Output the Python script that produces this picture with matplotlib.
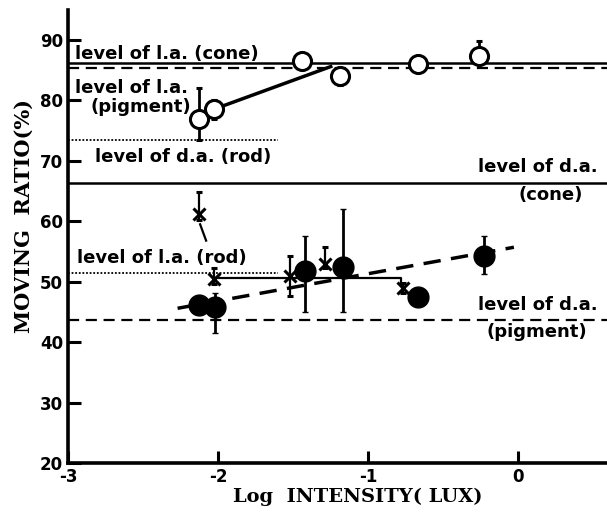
import matplotlib
matplotlib.use("Agg")
import matplotlib.pyplot as plt

# ---- data ----
open_x = [-2.13, -2.03, -1.44, -1.19, -0.67, -0.26]
open_y = [77.0, 78.5, 86.6, 84.0, 86.0, 87.3]
open_err_lo = [3.6, 1.5, 1.2, 1.5, 1.3, 1.2]
open_err_hi = [5.0, 1.5, 1.3, 1.3, 1.3, 2.5]
open_fit_x = [-2.0, -1.25]
open_fit_y = [78.8, 85.6]

fill_x = [-2.13, -2.02, -1.42, -1.17, -0.67, -0.23]
fill_y = [46.1, 45.8, 51.7, 52.5, 47.5, 54.3]
fill_err_lo = [1.5, 4.3, 6.7, 7.5, 1.3, 3.0]
fill_err_hi = [1.5, 2.3, 5.9, 9.6, 1.3, 3.2]
fill_fit_x = [-2.27, -0.03]
fill_fit_y = [45.6, 55.7]

cross_x = [-2.13, -2.03, -1.52, -1.29, -0.77]
cross_y = [61.2, 50.5, 51.0, 53.0, 49.0]
cross_err_lo = [1.0, 0.8, 3.3, 0.8, 0.8]
cross_err_hi = [3.6, 1.8, 3.3, 2.8, 0.8]
cross_step_x = [-2.02, -0.78, -0.78]
cross_step_y = [50.6, 50.6, 49.3]
cross_tail_x = [-2.12, -2.08]
cross_tail_y = [59.5, 56.8]

levels = {
    "la_cone": 86.2,
    "la_pigment": 85.4,
    "da_rod": 73.5,
    "da_cone": 66.3,
    "la_rod": 51.4,
    "da_pigment": 43.6,
}

xticks = [-3, -2, -1, 0]
xticklabels = ["-3", "-2", "-1", "0"]
yticks = [20, 30, 40, 50, 60, 70, 80, 90]

# ---- figure ----
plt.rcParams['font.family'] = ['DejaVu Sans']
fig = plt.figure(figsize=(6.07, 5.15), dpi=100)
ax = fig.add_axes([0.112, 0.101, 0.888, 0.880])
ax.set_xlim(-3, 0.59)
ax.set_ylim(20, 95)

for s in ['top', 'right']:
    ax.spines[s].set_visible(False)
for s in ['left', 'bottom']:
    ax.spines[s].set_linewidth(2.6)

# level lines
ax.axhline(levels["la_cone"], color='black', lw=1.8)
ax.axhline(levels["la_pigment"], color='black', lw=1.6, ls=(0, (5, 3)))
ax.plot([-3, -1.6], [levels["da_rod"]] * 2, color='black', lw=1.3, ls=(0, (1, 1)))
ax.axhline(levels["da_cone"], color='black', lw=1.8)
ax.plot([-3, -1.6], [levels["la_rod"]] * 2, color='black', lw=1.3, ls=(0, (1, 1)))
ax.axhline(levels["da_pigment"], color='black', lw=1.6, ls=(0, (5, 3)))

# fits
ax.plot(open_fit_x, open_fit_y, color='black', lw=2.5)
ax.plot(fill_fit_x, fill_fit_y, color='black', lw=2.5, ls=(0, (5, 3)))
ax.plot(cross_step_x, cross_step_y, color='black', lw=1.6)
ax.plot(cross_tail_x, cross_tail_y, color='black', lw=1.6)

# data
ax.errorbar(cross_x, cross_y, yerr=[cross_err_lo, cross_err_hi], fmt='x',
            color='black', ms=9, mew=2.2, elinewidth=1.6, capsize=2, zorder=4)
ax.errorbar(fill_x, fill_y, yerr=[fill_err_lo, fill_err_hi], fmt='o',
            color='black', ms=15, elinewidth=2.0, capsize=2, zorder=5)
ax.errorbar(open_x, open_y, yerr=[open_err_lo, open_err_hi], fmt='o',
            mfc='white', mec='black', color='black', ms=13, mew=2.2,
            elinewidth=2.0, capsize=2, zorder=6)

# texts
tkw = dict(fontsize=13, fontweight='bold', color='black', va='baseline',
           family='DejaVu Sans')
ax.text(-2.95, 86.9, "level of l.a. (cone)", **tkw)
ax.text(-2.95, 81.3, "level of l.a.", **tkw)
ax.text(-2.85, 78.1, "(pigment)", **tkw)
ax.text(-2.82, 69.8, "level of d.a. (rod)", **tkw)
ax.text(-0.27, 68.2, "level of d.a.", **tkw)
ax.text(0.0, 63.6, "(cone)", **tkw)
ax.text(-2.94, 53.1, "level of l.a. (rod)", **tkw)
ax.text(-0.27, 45.3, "level of d.a.", **tkw)
ax.text(-0.21, 40.9, "(pigment)", **tkw)

ax.set_xticks(xticks)
ax.set_xticklabels(xticklabels)
ax.set_yticks(yticks)
ax.tick_params(direction='in', length=9, width=2.2, labelsize=12)
for lab in ax.get_xticklabels() + ax.get_yticklabels():
    lab.set_fontweight('bold')

ax.set_xlabel("Log  INTENSITY( LUX)", fontsize=14, fontweight='bold',
              family='DejaVu Serif')
ax.set_ylabel("MOVING  RATIO(%)", fontsize=15, fontweight='bold',
              family='DejaVu Serif')
ax.xaxis.set_label_coords(0.538, -0.054)
ax.yaxis.set_label_coords(-0.064, 0.545)

fig.savefig("out.png", dpi=100)
